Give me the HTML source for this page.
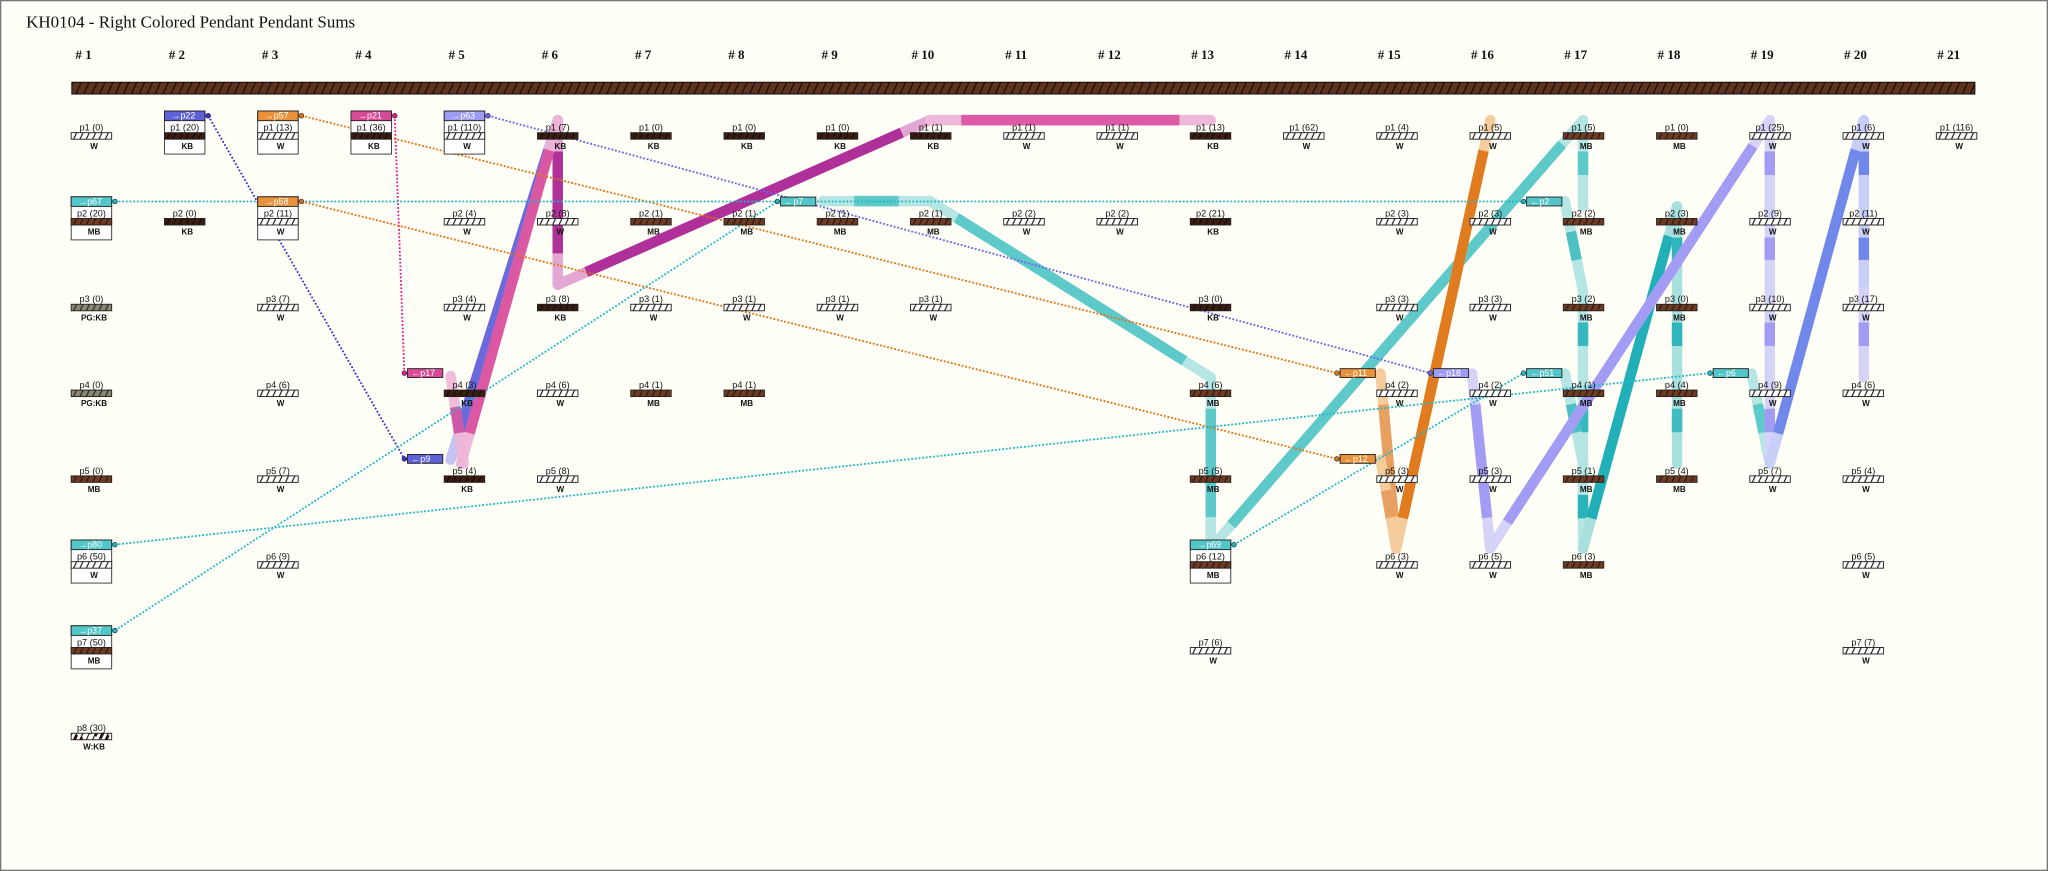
<!DOCTYPE html>
<html><head><meta charset="utf-8"><style>
html,body{margin:0;padding:0;background:#fffef7;}
svg{display:block}
.l{font:7px "Liberation Sans",sans-serif;text-anchor:middle;fill:#111}
.c{font:bold 6.2px "Liberation Sans",sans-serif;text-anchor:middle;fill:#111}
.t{font:6.8px "Liberation Sans",sans-serif;fill:#fff}
.h{font:bold 10px "Liberation Serif",serif;text-anchor:middle;fill:#111}
.b{stroke:#222;stroke-width:0.7}
.bx{fill:#fff;stroke:#333;stroke-width:0.7}
.d{fill:none;stroke-width:1.4;stroke-dasharray:1.4 1.4}
.bl{fill:none;stroke-width:8;stroke-linecap:round}
.bd{fill:none;stroke-width:8;stroke-linecap:butt}
</style></head><body>
<svg width="2048" height="871" viewBox="0 0 1568 667" preserveAspectRatio="none" xmlns="http://www.w3.org/2000/svg">
<defs>
<pattern id="W" width="4.4" height="10" patternUnits="userSpaceOnUse" patternTransform="rotate(25)"><rect width="4.4" height="10" fill="#fff"/><line x1="0.5" y1="0" x2="0.5" y2="10" stroke="#000" stroke-width="0.8"/></pattern>
<pattern id="KB" width="4.4" height="10" patternUnits="userSpaceOnUse" patternTransform="rotate(25)"><rect width="4.4" height="10" fill="#3a1d12"/><line x1="0.5" y1="0" x2="0.5" y2="10" stroke="#140704" stroke-width="0.8"/></pattern>
<pattern id="MB" width="4.4" height="10" patternUnits="userSpaceOnUse" patternTransform="rotate(25)"><rect width="4.4" height="10" fill="#6e3c24"/><line x1="0.5" y1="0" x2="0.5" y2="10" stroke="#24100a" stroke-width="0.8"/></pattern>
<pattern id="PG" width="4.4" height="10" patternUnits="userSpaceOnUse" patternTransform="rotate(25)"><rect width="4.4" height="10" fill="#8a8672"/><line x1="0.5" y1="0" x2="0.5" y2="10" stroke="#1a1a10" stroke-width="0.8"/></pattern>
<pattern id="WK" width="4.4" height="10" patternUnits="userSpaceOnUse" patternTransform="rotate(25)"><rect width="4.4" height="10" fill="#fff"/><rect width="2.2" height="5" fill="#3a1d12"/><line x1="0.5" y1="0" x2="0.5" y2="10" stroke="#000" stroke-width="0.8"/></pattern>
<pattern id="CORD" width="5.5" height="12" patternUnits="userSpaceOnUse" patternTransform="rotate(25)"><rect width="5.5" height="12" fill="#5e3320"/><line x1="0.5" y1="0" x2="0.5" y2="12" stroke="#1a0905" stroke-width="0.9"/></pattern>
</defs>
<rect x="0" y="0" width="1568" height="667" fill="#fffef7"/>
<rect x="0.5" y="0.5" width="1567" height="666" fill="none" stroke="#777" stroke-width="1"/>
<text x="20" y="21" style="font:13px 'Liberation Serif',serif;fill:#111">KH0104 - Right Colored Pendant Pendant Sums</text>

<g>
<text class="h" x="64" y="45"># 1</text><text class="h" x="135.4" y="45"># 2</text><text class="h" x="206.8" y="45"># 3</text><text class="h" x="278.2" y="45"># 4</text><text class="h" x="349.6" y="45"># 5</text><text class="h" x="421" y="45"># 6</text><text class="h" x="492.4" y="45"># 7</text><text class="h" x="563.8" y="45"># 8</text><text class="h" x="635.2" y="45"># 9</text><text class="h" x="706.6" y="45"># 10</text><text class="h" x="778" y="45"># 11</text><text class="h" x="849.4" y="45"># 12</text><text class="h" x="920.8" y="45"># 13</text><text class="h" x="992.2" y="45"># 14</text><text class="h" x="1063.6" y="45"># 15</text><text class="h" x="1135" y="45"># 16</text><text class="h" x="1206.4" y="45"># 17</text><text class="h" x="1277.8" y="45"># 18</text><text class="h" x="1349.2" y="45"># 19</text><text class="h" x="1420.6" y="45"># 20</text><text class="h" x="1492" y="45"># 21</text>
</g>
<rect x="55" y="63" width="1457" height="9" fill="url(#CORD)" stroke="#111" stroke-width="0.8"/>

<!-- bands -->
<g>
<!-- magenta -->
<line class="bl" x1="427" y1="92" x2="427" y2="218" stroke="#e4a6d2"/><line class="bd" x1="427" y1="92" x2="427" y2="218" stroke="#b0309a" stroke-dasharray="0 24 78 999"/>
<line class="bl" x1="427" y1="218" x2="712" y2="92" stroke="#e4a6d2"/><line class="bd" x1="427" y1="218" x2="712" y2="92" stroke="#b0309a" stroke-dasharray="0 24 264 999"/>
<line class="bl" x1="712" y1="92" x2="927" y2="92" stroke="#f0b8d8"/><line class="bd" x1="712" y1="92" x2="927" y2="92" stroke="#dc5aa6" stroke-dasharray="0 24 167 999"/>
<!-- blue + pink to col5 -->
<line class="bl" x1="427" y1="92" x2="345" y2="352" stroke="#c4c4f2"/><line class="bd" x1="427" y1="92" x2="345" y2="352" stroke="#6a6adc" stroke-dasharray="0 24 225 999"/>
<line class="bl" x1="427" y1="92" x2="353" y2="355" stroke="#eeb0d4" opacity="0.9"/><line class="bd" x1="427" y1="92" x2="353" y2="355" stroke="#d94e9c" stroke-dasharray="0 24 225 999" opacity="0.9"/>
<line class="bl" x1="345" y1="288" x2="355" y2="355" stroke="#eeb6d6" opacity="0.9"/><line class="bd" x1="345" y1="288" x2="355" y2="355" stroke="#c8409a" stroke-dasharray="0 24 20 999" opacity="0.8"/>
<!-- teal p7 -->
<line class="bl" x1="630" y1="154" x2="712" y2="154" stroke="#b5e6e3"/><line class="bd" x1="630" y1="154" x2="712" y2="154" stroke="#5ec9c9" stroke-dasharray="0 24 34 999"/>
<line class="bl" x1="712" y1="154" x2="927" y2="289" stroke="#b5e6e3"/><line class="bd" x1="712" y1="154" x2="927" y2="289" stroke="#5ec9c9" stroke-dasharray="0 24 206 999"/>
<line class="bl" x1="927" y1="289" x2="927" y2="420" stroke="#b5e6e3"/><line class="bd" x1="927" y1="289" x2="927" y2="420" stroke="#5ec9c9" stroke-dasharray="0 24 83 999"/>
<line class="bl" x1="927" y1="420" x2="1212" y2="92" stroke="#b5e6e3"/><line class="bd" x1="927" y1="420" x2="1212" y2="92" stroke="#5ec9c9" stroke-dasharray="0 24 386 999"/>
<!-- col17 -->
<line class="bl" x1="1212" y1="92" x2="1212" y2="158" stroke="#b5e6e3"/><line class="bd" x1="1212" y1="92" x2="1212" y2="158" stroke="#5ec9c9" stroke-dasharray="0 24 18 999"/>
<line class="bl" x1="1198" y1="154" x2="1212" y2="223" stroke="#b5e6e3"/><line class="bd" x1="1198" y1="154" x2="1212" y2="223" stroke="#4cc0c4" stroke-dasharray="0 24 22 999"/>
<line class="bl" x1="1212" y1="223" x2="1212" y2="289" stroke="#b5e6e3"/><line class="bd" x1="1212" y1="223" x2="1212" y2="289" stroke="#35b8c0" stroke-dasharray="0 24 18 999"/>
<line class="bl" x1="1212" y1="289" x2="1212" y2="355" stroke="#b5e6e3"/><line class="bd" x1="1212" y1="289" x2="1212" y2="355" stroke="#35b8c0" stroke-dasharray="0 24 18 999"/>
<line class="bl" x1="1198" y1="286" x2="1212" y2="355" stroke="#b5e6e3"/><line class="bd" x1="1198" y1="286" x2="1212" y2="355" stroke="#4cc0c4" stroke-dasharray="0 24 22 999"/>
<line class="bl" x1="1212" y1="355" x2="1212" y2="420" stroke="#b5e6e3"/><line class="bd" x1="1212" y1="355" x2="1212" y2="420" stroke="#2bb3ba" stroke-dasharray="0 24 18 999"/>
<line class="bl" x1="1212" y1="420" x2="1284" y2="158" stroke="#a8e0de"/><line class="bd" x1="1212" y1="420" x2="1284" y2="158" stroke="#22b0b8" stroke-dasharray="0 24 224 999"/>
<line class="bl" x1="1284" y1="158" x2="1284" y2="223" stroke="#a8e0de"/><line class="bd" x1="1284" y1="158" x2="1284" y2="223" stroke="#30b5bc" stroke-dasharray="0 24 17 999"/>
<line class="bl" x1="1284" y1="223" x2="1284" y2="289" stroke="#a8e0de"/><line class="bd" x1="1284" y1="223" x2="1284" y2="289" stroke="#30b5bc" stroke-dasharray="0 24 18 999"/>
<line class="bl" x1="1284" y1="289" x2="1284" y2="355" stroke="#a8e0de"/><line class="bd" x1="1284" y1="289" x2="1284" y2="355" stroke="#40bcc2" stroke-dasharray="0 24 18 999"/>
<line class="bl" x1="1341" y1="286" x2="1355" y2="355" stroke="#b5e6e3"/><line class="bd" x1="1341" y1="286" x2="1355" y2="355" stroke="#5ec9c9" stroke-dasharray="0 24 22 999"/>
<!-- orange -->
<line class="bl" x1="1057" y1="286" x2="1069" y2="420" stroke="#f5cc9c"/><line class="bd" x1="1057" y1="286" x2="1069" y2="420" stroke="#e8a060" stroke-dasharray="0 24 86 999"/>
<line class="bl" x1="1057" y1="352" x2="1069" y2="420" stroke="#f5cc9c"/><line class="bd" x1="1057" y1="352" x2="1069" y2="420" stroke="#e8a060" stroke-dasharray="0 24 21 999"/>
<line class="bl" x1="1141" y1="92" x2="1069" y2="420" stroke="#f5cc9c"/><line class="bd" x1="1141" y1="92" x2="1069" y2="420" stroke="#e07b20" stroke-dasharray="0 24 288 999"/>
<!-- lavender / blue -->
<line class="bl" x1="1127" y1="286" x2="1141" y2="420" stroke="#d6d3f8"/><line class="bd" x1="1127" y1="286" x2="1141" y2="420" stroke="#a39cf5" stroke-dasharray="0 24 87 999"/>
<line class="bl" x1="1141" y1="420" x2="1355" y2="92" stroke="#d6d3f8"/><line class="bd" x1="1141" y1="420" x2="1355" y2="92" stroke="#a39cf5" stroke-dasharray="0 24 344 999"/>
<line class="bl" x1="1355" y1="92" x2="1355" y2="158" stroke="#d6d3f8"/><line class="bd" x1="1355" y1="92" x2="1355" y2="158" stroke="#a39cf5" stroke-dasharray="0 24 18 999"/>
<line class="bl" x1="1355" y1="158" x2="1355" y2="223" stroke="#d6d3f8"/><line class="bd" x1="1355" y1="158" x2="1355" y2="223" stroke="#a39cf5" stroke-dasharray="0 24 17 999"/>
<line class="bl" x1="1355" y1="223" x2="1355" y2="289" stroke="#d6d3f8"/><line class="bd" x1="1355" y1="223" x2="1355" y2="289" stroke="#a39cf5" stroke-dasharray="0 24 18 999"/>
<line class="bl" x1="1355" y1="289" x2="1355" y2="355" stroke="#d6d3f8"/><line class="bd" x1="1355" y1="289" x2="1355" y2="355" stroke="#a39cf5" stroke-dasharray="0 24 18 999"/>
<line class="bl" x1="1355" y1="355" x2="1427" y2="92" stroke="#c8cff6"/><line class="bd" x1="1355" y1="355" x2="1427" y2="92" stroke="#7088ea" stroke-dasharray="0 24 225 999"/>
<line class="bl" x1="1427" y1="92" x2="1427" y2="158" stroke="#c8cff6"/><line class="bd" x1="1427" y1="92" x2="1427" y2="158" stroke="#7088ea" stroke-dasharray="0 24 18 999"/>
<line class="bl" x1="1427" y1="158" x2="1427" y2="223" stroke="#c8cff6"/><line class="bd" x1="1427" y1="158" x2="1427" y2="223" stroke="#7088ea" stroke-dasharray="0 24 17 999"/>
<line class="bl" x1="1427" y1="223" x2="1427" y2="289" stroke="#d6d3f8"/><line class="bd" x1="1427" y1="223" x2="1427" y2="289" stroke="#a39cf5" stroke-dasharray="0 24 18 999"/>
</g>

<!-- dotted connectors -->
<g>
<line class="d" x1="159.4" y1="88.6" x2="309.6" y2="351.4" stroke="#3434d4"/>
<line class="d" x1="230.8" y1="88.6" x2="1023.6" y2="285.7" stroke="#e4720e"/>
<line class="d" x1="302.2" y1="88.6" x2="309.6" y2="285.7" stroke="#e0208a"/>
<line class="d" x1="373.6" y1="88.6" x2="1095" y2="285.7" stroke="#6464f0"/>
<line class="d" x1="88" y1="154.3" x2="1166.4" y2="154.3" stroke="#1cb8c8"/>
<line class="d" x1="230.8" y1="154.3" x2="1023.6" y2="351.4" stroke="#e4720e"/>
<line class="d" x1="88" y1="417.1" x2="1309.2" y2="285.7" stroke="#1cb8c8"/>
<line class="d" x1="88" y1="482.8" x2="595.2" y2="154.3" stroke="#1cb8c8"/>
<line class="d" x1="944.8" y1="417.1" x2="1166.4" y2="285.7" stroke="#1cb8c8"/>
</g>

<!-- boxed pendant frames -->
<g>
<rect class="bx" x="54.5" y="150.7" width="31" height="33"/><rect x="54.5" y="150.7" width="31" height="7.4" fill="#52c6c8" class="b"/><text class="t" x="60" y="156.6">→p67</text><circle cx="88" cy="154.3" r="1.8" fill="#1cb8c8" stroke="#222" stroke-width="0.5"/>
<rect class="bx" x="54.5" y="413.5" width="31" height="33"/><rect x="54.5" y="413.5" width="31" height="7.4" fill="#52c6c8" class="b"/><text class="t" x="60" y="419.4">→p80</text><circle cx="88" cy="417.1" r="1.8" fill="#1cb8c8" stroke="#222" stroke-width="0.5"/>
<rect class="bx" x="54.5" y="479.2" width="31" height="33"/><rect x="54.5" y="479.2" width="31" height="7.4" fill="#52c6c8" class="b"/><text class="t" x="60" y="485.1">→p37</text><circle cx="88" cy="482.8" r="1.8" fill="#1cb8c8" stroke="#222" stroke-width="0.5"/>
<rect class="bx" x="125.9" y="85" width="31" height="33"/><rect x="125.9" y="85" width="31" height="7.4" fill="#6060d8" class="b"/><text class="t" x="131.4" y="90.9">→p22</text><circle cx="159.4" cy="88.6" r="1.8" fill="#3434d4" stroke="#222" stroke-width="0.5"/>
<rect class="bx" x="197.3" y="85" width="31" height="33"/><rect x="197.3" y="85" width="31" height="7.4" fill="#e8903a" class="b"/><text class="t" x="202.8" y="90.9">→p57</text><circle cx="230.8" cy="88.6" r="1.8" fill="#e4720e" stroke="#222" stroke-width="0.5"/>
<rect class="bx" x="197.3" y="150.7" width="31" height="33"/><rect x="197.3" y="150.7" width="31" height="7.4" fill="#e8903a" class="b"/><text class="t" x="202.8" y="156.6">→p58</text><circle cx="230.8" cy="154.3" r="1.8" fill="#e4720e" stroke="#222" stroke-width="0.5"/>
<rect class="bx" x="268.7" y="85" width="31" height="33"/><rect x="268.7" y="85" width="31" height="7.4" fill="#d84a98" class="b"/><text class="t" x="274.2" y="90.9">→p21</text><circle cx="302.2" cy="88.6" r="1.8" fill="#e0208a" stroke="#222" stroke-width="0.5"/>
<rect class="bx" x="340.1" y="85" width="31" height="33"/><rect x="340.1" y="85" width="31" height="7.4" fill="#9c9cf4" class="b"/><text class="t" x="345.6" y="90.9">→p63</text><circle cx="373.6" cy="88.6" r="1.8" fill="#6464f0" stroke="#222" stroke-width="0.5"/>
<rect class="bx" x="911.3" y="413.5" width="31" height="33"/><rect x="911.3" y="413.5" width="31" height="7.4" fill="#52c6c8" class="b"/><text class="t" x="916.8" y="419.4">→p69</text><circle cx="944.8" cy="417.1" r="1.8" fill="#1cb8c8" stroke="#222" stroke-width="0.5"/>
</g>

<!-- floating tags -->
<g>
<rect x="312" y="282.3" width="27" height="6.8" fill="#d84a98" class="b"/><text class="t" x="315" y="288">←p17</text><circle cx="309.6" cy="285.7" r="1.8" fill="#e0208a" stroke="#222" stroke-width="0.5"/>
<rect x="312" y="348" width="27" height="6.8" fill="#6060d8" class="b"/><text class="t" x="315" y="353.7">←p9</text><circle cx="309.6" cy="351.4" r="1.8" fill="#3434d4" stroke="#222" stroke-width="0.5"/>
<rect x="597.6" y="150.9" width="27" height="6.8" fill="#52c6c8" class="b"/><text class="t" x="600.6" y="156.6">←p7</text><circle cx="595.2" cy="154.3" r="1.8" fill="#1cb8c8" stroke="#222" stroke-width="0.5"/>
<rect x="1026" y="282.3" width="27" height="6.8" fill="#e8903a" class="b"/><text class="t" x="1029" y="288">←p11</text><circle cx="1023.6" cy="285.7" r="1.8" fill="#e4720e" stroke="#222" stroke-width="0.5"/>
<rect x="1026" y="348" width="27" height="6.8" fill="#e8903a" class="b"/><text class="t" x="1029" y="353.7">←p12</text><circle cx="1023.6" cy="351.4" r="1.8" fill="#e4720e" stroke="#222" stroke-width="0.5"/>
<rect x="1097.4" y="282.3" width="27" height="6.8" fill="#9c9cf4" class="b"/><text class="t" x="1100.4" y="288">←p18</text><circle cx="1095" cy="285.7" r="1.8" fill="#6464f0" stroke="#222" stroke-width="0.5"/>
<rect x="1168.8" y="150.9" width="27" height="6.8" fill="#52c6c8" class="b"/><text class="t" x="1171.8" y="156.6">←p2</text><circle cx="1166.4" cy="154.3" r="1.8" fill="#1cb8c8" stroke="#222" stroke-width="0.5"/>
<rect x="1168.8" y="282.3" width="27" height="6.8" fill="#52c6c8" class="b"/><text class="t" x="1171.8" y="288">←p51</text><circle cx="1166.4" cy="285.7" r="1.8" fill="#1cb8c8" stroke="#222" stroke-width="0.5"/>
<rect x="1311.6" y="282.3" width="27" height="6.8" fill="#52c6c8" class="b"/><text class="t" x="1314.6" y="288">←p6</text><circle cx="1309.2" cy="285.7" r="1.8" fill="#1cb8c8" stroke="#222" stroke-width="0.5"/>
</g>

<!-- pendants -->
<g>
<!-- col1 -->
<g transform="translate(70,97)"><text class="l" y="3">p1 (0)</text><rect class="b" x="-15.5" y="4.6" width="31" height="5" fill="url(#W)"/><text class="c" x="2" y="17">W</text></g>
<g transform="translate(70,162.7)"><text class="l" y="3">p2 (20)</text><rect class="b" x="-15.5" y="4.6" width="31" height="5" fill="url(#MB)"/><text class="c" x="2" y="17">MB</text></g>
<g transform="translate(70,228.4)"><text class="l" y="3">p3 (0)</text><rect class="b" x="-15.5" y="4.6" width="31" height="5" fill="url(#PG)"/><text class="c" x="2" y="17">PG:KB</text></g>
<g transform="translate(70,294.1)"><text class="l" y="3">p4 (0)</text><rect class="b" x="-15.5" y="4.6" width="31" height="5" fill="url(#PG)"/><text class="c" x="2" y="17">PG:KB</text></g>
<g transform="translate(70,359.8)"><text class="l" y="3">p5 (0)</text><rect class="b" x="-15.5" y="4.6" width="31" height="5" fill="url(#MB)"/></g>
<g transform="translate(70,359.8)"><text class="c" x="2" y="17">MB</text></g>
<g transform="translate(70,425.5)"><text class="l" y="3">p6 (50)</text><rect class="b" x="-15.5" y="4.6" width="31" height="5" fill="url(#W)"/><text class="c" x="2" y="17">W</text></g>
<g transform="translate(70,491.2)"><text class="l" y="3">p7 (50)</text><rect class="b" x="-15.5" y="4.6" width="31" height="5" fill="url(#MB)"/><text class="c" x="2" y="17">MB</text></g>
<g transform="translate(70,556.9)"><text class="l" y="3">p8 (30)</text><rect class="b" x="-15.5" y="4.6" width="31" height="5" fill="url(#WK)"/><text class="c" x="2" y="17">W:KB</text></g>
<!-- col2 -->
<g transform="translate(141.4,97)"><text class="l" y="3">p1 (20)</text><rect class="b" x="-15.5" y="4.6" width="31" height="5" fill="url(#KB)"/><text class="c" x="2" y="17">KB</text></g>
<g transform="translate(141.4,162.7)"><text class="l" y="3">p2 (0)</text><rect class="b" x="-15.5" y="4.6" width="31" height="5" fill="url(#KB)"/><text class="c" x="2" y="17">KB</text></g>
<!-- col3 -->
<g transform="translate(212.8,97)"><text class="l" y="3">p1 (13)</text><rect class="b" x="-15.5" y="4.6" width="31" height="5" fill="url(#W)"/><text class="c" x="2" y="17">W</text></g>
<g transform="translate(212.8,162.7)"><text class="l" y="3">p2 (11)</text><rect class="b" x="-15.5" y="4.6" width="31" height="5" fill="url(#W)"/><text class="c" x="2" y="17">W</text></g>
<g transform="translate(212.8,228.4)"><text class="l" y="3">p3 (7)</text><rect class="b" x="-15.5" y="4.6" width="31" height="5" fill="url(#W)"/><text class="c" x="2" y="17">W</text></g>
<g transform="translate(212.8,294.1)"><text class="l" y="3">p4 (6)</text><rect class="b" x="-15.5" y="4.6" width="31" height="5" fill="url(#W)"/><text class="c" x="2" y="17">W</text></g>
<g transform="translate(212.8,359.8)"><text class="l" y="3">p5 (7)</text><rect class="b" x="-15.5" y="4.6" width="31" height="5" fill="url(#W)"/><text class="c" x="2" y="17">W</text></g>
<g transform="translate(212.8,425.5)"><text class="l" y="3">p6 (9)</text><rect class="b" x="-15.5" y="4.6" width="31" height="5" fill="url(#W)"/><text class="c" x="2" y="17">W</text></g>
<!-- col4 -->
<g transform="translate(284.2,97)"><text class="l" y="3">p1 (36)</text><rect class="b" x="-15.5" y="4.6" width="31" height="5" fill="url(#KB)"/><text class="c" x="2" y="17">KB</text></g>
<!-- col5 -->
<g transform="translate(355.6,97)"><text class="l" y="3">p1 (110)</text><rect class="b" x="-15.5" y="4.6" width="31" height="5" fill="url(#W)"/><text class="c" x="2" y="17">W</text></g>
<g transform="translate(355.6,162.7)"><text class="l" y="3">p2 (4)</text><rect class="b" x="-15.5" y="4.6" width="31" height="5" fill="url(#W)"/><text class="c" x="2" y="17">W</text></g>
<g transform="translate(355.6,228.4)"><text class="l" y="3">p3 (4)</text><rect class="b" x="-15.5" y="4.6" width="31" height="5" fill="url(#W)"/><text class="c" x="2" y="17">W</text></g>
<g transform="translate(355.6,294.1)"><text class="l" y="3">p4 (3)</text><rect class="b" x="-15.5" y="4.6" width="31" height="5" fill="url(#KB)"/><text class="c" x="2" y="17">KB</text></g>
<g transform="translate(355.6,359.8)"><text class="l" y="3">p5 (4)</text><rect class="b" x="-15.5" y="4.6" width="31" height="5" fill="url(#KB)"/><text class="c" x="2" y="17">KB</text></g>
<!-- col6 -->
<g transform="translate(427,97)"><text class="l" y="3">p1 (7)</text><rect class="b" x="-15.5" y="4.6" width="31" height="5" fill="url(#KB)"/><text class="c" x="2" y="17">KB</text></g>
<g transform="translate(427,162.7)"><text class="l" y="3">p2 (8)</text><rect class="b" x="-15.5" y="4.6" width="31" height="5" fill="url(#W)"/><text class="c" x="2" y="17">W</text></g>
<g transform="translate(427,228.4)"><text class="l" y="3">p3 (8)</text><rect class="b" x="-15.5" y="4.6" width="31" height="5" fill="url(#KB)"/><text class="c" x="2" y="17">KB</text></g>
<g transform="translate(427,294.1)"><text class="l" y="3">p4 (6)</text><rect class="b" x="-15.5" y="4.6" width="31" height="5" fill="url(#W)"/><text class="c" x="2" y="17">W</text></g>
<g transform="translate(427,359.8)"><text class="l" y="3">p5 (8)</text><rect class="b" x="-15.5" y="4.6" width="31" height="5" fill="url(#W)"/><text class="c" x="2" y="17">W</text></g>
<!-- col7 -->
<g transform="translate(498.4,97)"><text class="l" y="3">p1 (0)</text><rect class="b" x="-15.5" y="4.6" width="31" height="5" fill="url(#KB)"/><text class="c" x="2" y="17">KB</text></g>
<g transform="translate(498.4,162.7)"><text class="l" y="3">p2 (1)</text><rect class="b" x="-15.5" y="4.6" width="31" height="5" fill="url(#MB)"/><text class="c" x="2" y="17">MB</text></g>
<g transform="translate(498.4,228.4)"><text class="l" y="3">p3 (1)</text><rect class="b" x="-15.5" y="4.6" width="31" height="5" fill="url(#W)"/><text class="c" x="2" y="17">W</text></g>
<g transform="translate(498.4,294.1)"><text class="l" y="3">p4 (1)</text><rect class="b" x="-15.5" y="4.6" width="31" height="5" fill="url(#MB)"/><text class="c" x="2" y="17">MB</text></g>
<!-- col8 -->
<g transform="translate(569.8,97)"><text class="l" y="3">p1 (0)</text><rect class="b" x="-15.5" y="4.6" width="31" height="5" fill="url(#KB)"/><text class="c" x="2" y="17">KB</text></g>
<g transform="translate(569.8,162.7)"><text class="l" y="3">p2 (1)</text><rect class="b" x="-15.5" y="4.6" width="31" height="5" fill="url(#MB)"/><text class="c" x="2" y="17">MB</text></g>
<g transform="translate(569.8,228.4)"><text class="l" y="3">p3 (1)</text><rect class="b" x="-15.5" y="4.6" width="31" height="5" fill="url(#W)"/><text class="c" x="2" y="17">W</text></g>
<g transform="translate(569.8,294.1)"><text class="l" y="3">p4 (1)</text><rect class="b" x="-15.5" y="4.6" width="31" height="5" fill="url(#MB)"/><text class="c" x="2" y="17">MB</text></g>
<!-- col9 -->
<g transform="translate(641.2,97)"><text class="l" y="3">p1 (0)</text><rect class="b" x="-15.5" y="4.6" width="31" height="5" fill="url(#KB)"/><text class="c" x="2" y="17">KB</text></g>
<g transform="translate(641.2,162.7)"><text class="l" y="3">p2 (1)</text><rect class="b" x="-15.5" y="4.6" width="31" height="5" fill="url(#MB)"/><text class="c" x="2" y="17">MB</text></g>
<g transform="translate(641.2,228.4)"><text class="l" y="3">p3 (1)</text><rect class="b" x="-15.5" y="4.6" width="31" height="5" fill="url(#W)"/><text class="c" x="2" y="17">W</text></g>
<!-- col10 -->
<g transform="translate(712.6,97)"><text class="l" y="3">p1 (1)</text><rect class="b" x="-15.5" y="4.6" width="31" height="5" fill="url(#KB)"/><text class="c" x="2" y="17">KB</text></g>
<g transform="translate(712.6,162.7)"><text class="l" y="3">p2 (1)</text><rect class="b" x="-15.5" y="4.6" width="31" height="5" fill="url(#MB)"/><text class="c" x="2" y="17">MB</text></g>
<g transform="translate(712.6,228.4)"><text class="l" y="3">p3 (1)</text><rect class="b" x="-15.5" y="4.6" width="31" height="5" fill="url(#W)"/><text class="c" x="2" y="17">W</text></g>
<!-- col11 -->
<g transform="translate(784,97)"><text class="l" y="3">p1 (1)</text><rect class="b" x="-15.5" y="4.6" width="31" height="5" fill="url(#W)"/><text class="c" x="2" y="17">W</text></g>
<g transform="translate(784,162.7)"><text class="l" y="3">p2 (2)</text><rect class="b" x="-15.5" y="4.6" width="31" height="5" fill="url(#W)"/><text class="c" x="2" y="17">W</text></g>
<!-- col12 -->
<g transform="translate(855.4,97)"><text class="l" y="3">p1 (1)</text><rect class="b" x="-15.5" y="4.6" width="31" height="5" fill="url(#W)"/><text class="c" x="2" y="17">W</text></g>
<g transform="translate(855.4,162.7)"><text class="l" y="3">p2 (2)</text><rect class="b" x="-15.5" y="4.6" width="31" height="5" fill="url(#W)"/><text class="c" x="2" y="17">W</text></g>
<!-- col13 -->
<g transform="translate(926.8,97)"><text class="l" y="3">p1 (13)</text><rect class="b" x="-15.5" y="4.6" width="31" height="5" fill="url(#KB)"/><text class="c" x="2" y="17">KB</text></g>
<g transform="translate(926.8,162.7)"><text class="l" y="3">p2 (21)</text><rect class="b" x="-15.5" y="4.6" width="31" height="5" fill="url(#KB)"/><text class="c" x="2" y="17">KB</text></g>
<g transform="translate(926.8,228.4)"><text class="l" y="3">p3 (0)</text><rect class="b" x="-15.5" y="4.6" width="31" height="5" fill="url(#KB)"/><text class="c" x="2" y="17">KB</text></g>
<g transform="translate(926.8,294.1)"><text class="l" y="3">p4 (6)</text><rect class="b" x="-15.5" y="4.6" width="31" height="5" fill="url(#MB)"/><text class="c" x="2" y="17">MB</text></g>
<g transform="translate(926.8,359.8)"><text class="l" y="3">p5 (5)</text><rect class="b" x="-15.5" y="4.6" width="31" height="5" fill="url(#MB)"/><text class="c" x="2" y="17">MB</text></g>
<g transform="translate(926.8,425.5)"><text class="l" y="3">p6 (12)</text><rect class="b" x="-15.5" y="4.6" width="31" height="5" fill="url(#MB)"/><text class="c" x="2" y="17">MB</text></g>
<g transform="translate(926.8,491.2)"><text class="l" y="3">p7 (6)</text><rect class="b" x="-15.5" y="4.6" width="31" height="5" fill="url(#W)"/><text class="c" x="2" y="17">W</text></g>
<!-- col14 -->
<g transform="translate(998.2,97)"><text class="l" y="3">p1 (62)</text><rect class="b" x="-15.5" y="4.6" width="31" height="5" fill="url(#W)"/><text class="c" x="2" y="17">W</text></g>
<!-- col15 -->
<g transform="translate(1069.6,97)"><text class="l" y="3">p1 (4)</text><rect class="b" x="-15.5" y="4.6" width="31" height="5" fill="url(#W)"/><text class="c" x="2" y="17">W</text></g>
<g transform="translate(1069.6,162.7)"><text class="l" y="3">p2 (3)</text><rect class="b" x="-15.5" y="4.6" width="31" height="5" fill="url(#W)"/><text class="c" x="2" y="17">W</text></g>
<g transform="translate(1069.6,228.4)"><text class="l" y="3">p3 (3)</text><rect class="b" x="-15.5" y="4.6" width="31" height="5" fill="url(#W)"/><text class="c" x="2" y="17">W</text></g>
<g transform="translate(1069.6,294.1)"><text class="l" y="3">p4 (2)</text><rect class="b" x="-15.5" y="4.6" width="31" height="5" fill="url(#W)"/><text class="c" x="2" y="17">W</text></g>
<g transform="translate(1069.6,359.8)"><text class="l" y="3">p5 (3)</text><rect class="b" x="-15.5" y="4.6" width="31" height="5" fill="url(#W)"/><text class="c" x="2" y="17">W</text></g>
<g transform="translate(1069.6,425.5)"><text class="l" y="3">p6 (3)</text><rect class="b" x="-15.5" y="4.6" width="31" height="5" fill="url(#W)"/><text class="c" x="2" y="17">W</text></g>
<!-- col16 -->
<g transform="translate(1141,97)"><text class="l" y="3">p1 (5)</text><rect class="b" x="-15.5" y="4.6" width="31" height="5" fill="url(#W)"/><text class="c" x="2" y="17">W</text></g>
<g transform="translate(1141,162.7)"><text class="l" y="3">p2 (3)</text><rect class="b" x="-15.5" y="4.6" width="31" height="5" fill="url(#W)"/><text class="c" x="2" y="17">W</text></g>
<g transform="translate(1141,228.4)"><text class="l" y="3">p3 (3)</text><rect class="b" x="-15.5" y="4.6" width="31" height="5" fill="url(#W)"/><text class="c" x="2" y="17">W</text></g>
<g transform="translate(1141,294.1)"><text class="l" y="3">p4 (2)</text><rect class="b" x="-15.5" y="4.6" width="31" height="5" fill="url(#W)"/><text class="c" x="2" y="17">W</text></g>
<g transform="translate(1141,359.8)"><text class="l" y="3">p5 (3)</text><rect class="b" x="-15.5" y="4.6" width="31" height="5" fill="url(#W)"/><text class="c" x="2" y="17">W</text></g>
<g transform="translate(1141,425.5)"><text class="l" y="3">p6 (5)</text><rect class="b" x="-15.5" y="4.6" width="31" height="5" fill="url(#W)"/><text class="c" x="2" y="17">W</text></g>
<!-- col17 -->
<g transform="translate(1212.4,97)"><text class="l" y="3">p1 (5)</text><rect class="b" x="-15.5" y="4.6" width="31" height="5" fill="url(#MB)"/><text class="c" x="2" y="17">MB</text></g>
<g transform="translate(1212.4,162.7)"><text class="l" y="3">p2 (2)</text><rect class="b" x="-15.5" y="4.6" width="31" height="5" fill="url(#MB)"/><text class="c" x="2" y="17">MB</text></g>
<g transform="translate(1212.4,228.4)"><text class="l" y="3">p3 (2)</text><rect class="b" x="-15.5" y="4.6" width="31" height="5" fill="url(#MB)"/><text class="c" x="2" y="17">MB</text></g>
<g transform="translate(1212.4,294.1)"><text class="l" y="3">p4 (1)</text><rect class="b" x="-15.5" y="4.6" width="31" height="5" fill="url(#MB)"/><text class="c" x="2" y="17">MB</text></g>
<g transform="translate(1212.4,359.8)"><text class="l" y="3">p5 (1)</text><rect class="b" x="-15.5" y="4.6" width="31" height="5" fill="url(#MB)"/><text class="c" x="2" y="17">MB</text></g>
<g transform="translate(1212.4,425.5)"><text class="l" y="3">p6 (3)</text><rect class="b" x="-15.5" y="4.6" width="31" height="5" fill="url(#MB)"/><text class="c" x="2" y="17">MB</text></g>
<!-- col18 -->
<g transform="translate(1283.8,97)"><text class="l" y="3">p1 (0)</text><rect class="b" x="-15.5" y="4.6" width="31" height="5" fill="url(#MB)"/><text class="c" x="2" y="17">MB</text></g>
<g transform="translate(1283.8,162.7)"><text class="l" y="3">p2 (3)</text><rect class="b" x="-15.5" y="4.6" width="31" height="5" fill="url(#MB)"/><text class="c" x="2" y="17">MB</text></g>
<g transform="translate(1283.8,228.4)"><text class="l" y="3">p3 (0)</text><rect class="b" x="-15.5" y="4.6" width="31" height="5" fill="url(#MB)"/><text class="c" x="2" y="17">MB</text></g>
<g transform="translate(1283.8,294.1)"><text class="l" y="3">p4 (4)</text><rect class="b" x="-15.5" y="4.6" width="31" height="5" fill="url(#MB)"/><text class="c" x="2" y="17">MB</text></g>
<g transform="translate(1283.8,359.8)"><text class="l" y="3">p5 (4)</text><rect class="b" x="-15.5" y="4.6" width="31" height="5" fill="url(#MB)"/><text class="c" x="2" y="17">MB</text></g>
<!-- col19 -->
<g transform="translate(1355.2,97)"><text class="l" y="3">p1 (25)</text><rect class="b" x="-15.5" y="4.6" width="31" height="5" fill="url(#W)"/><text class="c" x="2" y="17">W</text></g>
<g transform="translate(1355.2,162.7)"><text class="l" y="3">p2 (9)</text><rect class="b" x="-15.5" y="4.6" width="31" height="5" fill="url(#W)"/><text class="c" x="2" y="17">W</text></g>
<g transform="translate(1355.2,228.4)"><text class="l" y="3">p3 (10)</text><rect class="b" x="-15.5" y="4.6" width="31" height="5" fill="url(#W)"/><text class="c" x="2" y="17">W</text></g>
<g transform="translate(1355.2,294.1)"><text class="l" y="3">p4 (9)</text><rect class="b" x="-15.5" y="4.6" width="31" height="5" fill="url(#W)"/><text class="c" x="2" y="17">W</text></g>
<g transform="translate(1355.2,359.8)"><text class="l" y="3">p5 (7)</text><rect class="b" x="-15.5" y="4.6" width="31" height="5" fill="url(#W)"/><text class="c" x="2" y="17">W</text></g>
<!-- col20 -->
<g transform="translate(1426.6,97)"><text class="l" y="3">p1 (6)</text><rect class="b" x="-15.5" y="4.6" width="31" height="5" fill="url(#W)"/><text class="c" x="2" y="17">W</text></g>
<g transform="translate(1426.6,162.7)"><text class="l" y="3">p2 (11)</text><rect class="b" x="-15.5" y="4.6" width="31" height="5" fill="url(#W)"/><text class="c" x="2" y="17">W</text></g>
<g transform="translate(1426.6,228.4)"><text class="l" y="3">p3 (17)</text><rect class="b" x="-15.5" y="4.6" width="31" height="5" fill="url(#W)"/><text class="c" x="2" y="17">W</text></g>
<g transform="translate(1426.6,294.1)"><text class="l" y="3">p4 (6)</text><rect class="b" x="-15.5" y="4.6" width="31" height="5" fill="url(#W)"/><text class="c" x="2" y="17">W</text></g>
<g transform="translate(1426.6,359.8)"><text class="l" y="3">p5 (4)</text><rect class="b" x="-15.5" y="4.6" width="31" height="5" fill="url(#W)"/><text class="c" x="2" y="17">W</text></g>
<g transform="translate(1426.6,425.5)"><text class="l" y="3">p6 (5)</text><rect class="b" x="-15.5" y="4.6" width="31" height="5" fill="url(#W)"/><text class="c" x="2" y="17">W</text></g>
<g transform="translate(1426.6,491.2)"><text class="l" y="3">p7 (7)</text><rect class="b" x="-15.5" y="4.6" width="31" height="5" fill="url(#W)"/><text class="c" x="2" y="17">W</text></g>
<!-- col21 -->
<g transform="translate(1498,97)"><text class="l" y="3">p1 (116)</text><rect class="b" x="-15.5" y="4.6" width="31" height="5" fill="url(#W)"/><text class="c" x="2" y="17">W</text></g>
</g>
</svg>
</body></html>
